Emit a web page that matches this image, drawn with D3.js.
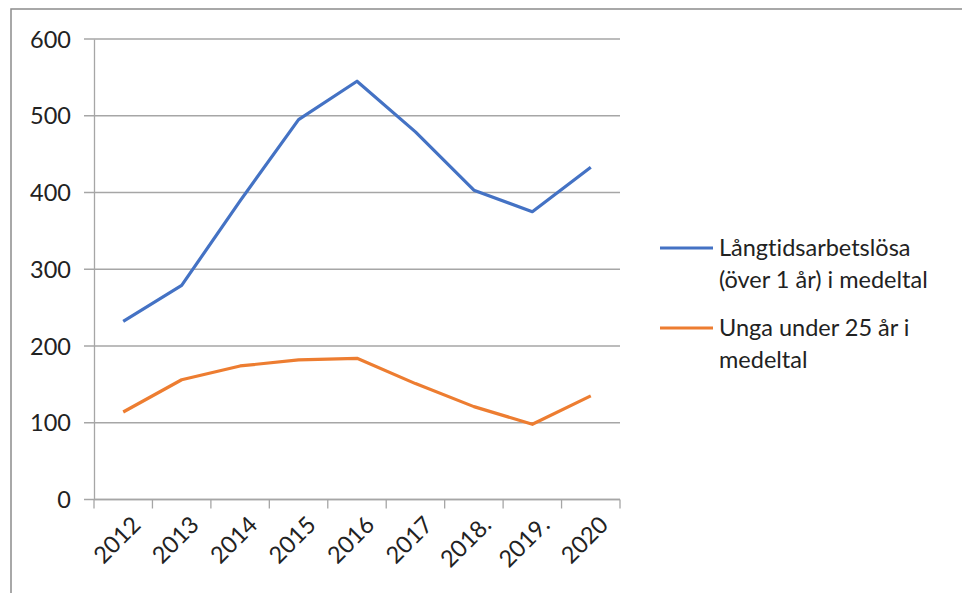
<!DOCTYPE html>
<html>
<head>
<meta charset="utf-8">
<script src="https://cdn.jsdelivr.net/npm/d3@7"></script>
<style>
  body { margin: 0; background: #fff; }
  svg text { font-family: Lato, "Open Sans", sans-serif; fill: #222; font-variant-ligatures: none; }
</style>
</head>
<body>
<svg id="chart" width="962" height="593"></svg>
<script>
(function () {
'use strict';

var years = ["2012", "2013", "2014", "2015", "2016", "2017", "2018.", "2019.", "2020"];
var longTerm = [232, 279, 389, 495, 545, 479, 403, 375, 433];
var young = [114, 156, 174, 182, 184, 151, 121, 98, 135];
var yTicks = [0, 100, 200, 300, 400, 500, 600];

var seriesNames = [["Långtidsarbetslösa", "(över 1 år) i medeltal"], ["Unga under 25 år i", "medeltal"]];
var colors = ["#4472C4", "#ED7D31"];

var svg = d3.select("#chart");

// outer chart frame
svg.append("rect")
    .attr("x", 11).attr("y", 9)
    .attr("width", 1000).attr("height", 700)
    .attr("fill", "none")
    .attr("stroke", "#8c8c8c")
    .attr("stroke-width", 1.5);

var left = 94, right = 620, top = 39, bottom = 499.5;

var x = d3.scaleBand().domain(years).range([left, right]);
var y = d3.scaleLinear().domain([0, 600]).range([bottom, top]);

// gridlines
svg.append("g")
    .selectAll("line")
    .data(yTicks)
    .enter().append("line")
    .attr("x1", left - 10).attr("x2", right)
    .attr("y1", function (d) { return y(d); })
    .attr("y2", function (d) { return y(d); })
    .attr("stroke", "#a6a6a6")
    .attr("stroke-width", 1.3);

// y axis
var yAxis = svg.append("g")
    .attr("transform", "translate(" + left + ",0)")
    .call(d3.axisLeft(y).tickValues(yTicks).tickSize(0).tickPadding(23));
yAxis.select(".domain").attr("stroke", "#a6a6a6").attr("stroke-width", 1.3);
yAxis.selectAll("text").style("font-size", "23.5px").attr("fill", "#222").attr("dy", "0.35em");

// x axis with ticks at band edges
var xAxis = svg.append("g")
    .attr("transform", "translate(0," + bottom + ")");
xAxis.append("line")
    .attr("x1", left).attr("x2", right)
    .attr("stroke", "#a6a6a6").attr("stroke-width", 1.3);
var edges = years.map(function (d) { return x(d); }).concat([right]);
xAxis.selectAll("line.tick")
    .data(edges)
    .enter().append("line")
    .attr("class", "tick")
    .attr("x1", function (d) { return d; })
    .attr("x2", function (d) { return d; })
    .attr("y1", 0).attr("y2", 9)
    .attr("stroke", "#a6a6a6").attr("stroke-width", 1.3);
xAxis.selectAll("text")
    .data(years)
    .enter().append("text")
    .attr("transform", function (d) {
        return "translate(" + (x(d) + x.bandwidth() / 2 + 13) + ",21) rotate(-45)";
    })
    .attr("text-anchor", "end")
    .attr("dy", "0.35em")
    .style("font-size", "23.5px")
    .text(function (d) { return d; });

// lines
var line = d3.line()
    .x(function (d, i) { return x(years[i]) + x.bandwidth() / 2; })
    .y(function (d) { return y(d); });

[longTerm, young].forEach(function (s, i) {
    svg.append("path")
        .datum(s)
        .attr("d", line)
        .attr("fill", "none")
        .attr("stroke", colors[i])
        .attr("stroke-width", 3.2)
        .attr("stroke-linejoin", "round");
});

// legend
var legend = svg.append("g").attr("transform", "translate(660,0)");
var legendY = [248, 328];
seriesNames.forEach(function (names, i) {
    var g = legend.append("g").attr("transform", "translate(0," + legendY[i] + ")");
    g.append("line")
        .attr("x1", 0).attr("x2", 53)
        .attr("stroke", colors[i]).attr("stroke-width", 3.2);
    g.append("text")
        .attr("x", 59)
        .style("font-size", "23.5px")
        .selectAll("tspan")
        .data(names)
        .enter().append("tspan")
        .attr("x", 59)
        .attr("dy", function (d, j) { return j === 0 ? "0.35em" : 32; })
        .text(function (d) { return d; });
});

})();
</script>
</body>
</html>
